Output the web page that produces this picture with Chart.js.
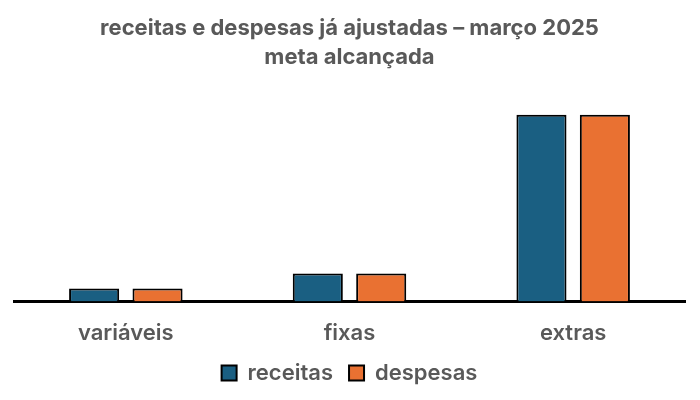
<!DOCTYPE html>
<html><head><meta charset="utf-8">
<script src="https://cdn.jsdelivr.net/npm/chart.js@4"></script>
<style>html,body{margin:0;padding:0;background:#fff}#w{width:700px;height:400px}</style>
</head><body><div id="w"><canvas id="c"></canvas></div>
<script>
const categories = ["variáveis", "fixas", "extras"];
const receitas = [7, 15, 100];
const despesas = [7, 15, 100];
const seriesNames = ["receitas", "despesas"];
const titleLines = ["receitas e despesas já ajustadas – março 2025", "meta alcançada"];

const FONT = "Inter, 'Open Sans', sans-serif";
Chart.defaults.font.family = FONT;
new Chart(document.getElementById('c'), {
  type: 'bar',
  data: {
    labels: categories,
    datasets: [
      {label: seriesNames[0], data: receitas, backgroundColor: '#1a5f82', borderColor: '#000', borderWidth: 2, borderSkipped: 'bottom'},
      {label: seriesNames[1], data: despesas, backgroundColor: '#e97132', borderColor: '#000', borderWidth: 2, borderSkipped: 'bottom'}
    ]
  },
  options: {
    responsive: true, maintainAspectRatio: false, animation: false,
    layout: {padding: {left: 14, right: 15, top: 13, bottom: 6}},
    datasets: {bar: {categoryPercentage: 0.567, barPercentage: 0.79}},
    scales: {
      x: {grid: {display: false}, border: {color: '#000', width: 3},
          ticks: {color: '#595959', font: {size: 22, weight: '600'}, padding: 11},
          afterFit: (s) => { s.height -= 12; }},
      y: {display: false, min: 0, max: 117}
    },
    plugins: {
      title: {display: true, text: titleLines, color: '#595959', font: {size: 22, weight: 'bold', lineHeight: 1.36}, padding: {top: 0, bottom: 10}},
      legend: {position: 'bottom', labels: {color: '#595959', font: {size: 22, weight: '600'}, boxWidth: 15, boxHeight: 15, padding: 16, useBorderRadius: false}},
      tooltip: {enabled: false}
    }
  }
});
</script></body></html>
